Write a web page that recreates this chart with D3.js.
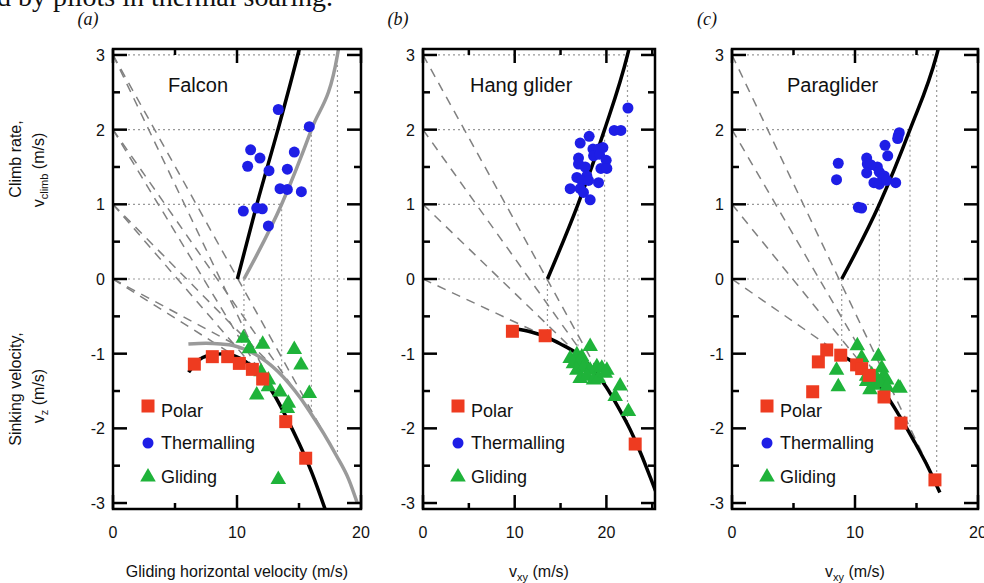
<!DOCTYPE html>
<meta charset="utf-8">
<style>
body { margin: 0; background: #fff; }
text { font-family: "Liberation Sans", Arial, sans-serif; fill: #111; }
.serif { font-family: "Liberation Serif", "Times New Roman", serif; }
.box { fill: none; stroke: #000; stroke-width: 2.5; }
.tick { stroke: #000; stroke-width: 2.5; }
.grid { fill: none; stroke: #999; stroke-width: 1.2; stroke-dasharray: 2,3; }
.tangent { fill: none; stroke: #808080; stroke-width: 1.5; stroke-dasharray: 9,7; }
.curve { fill: none; stroke: #000; stroke-width: 3.5; }
.curve.alt { stroke: #9a9a9a; }
</style>
<svg width="984" height="583"></svg>
<script src="https://d3js.org/d3.v7.min.js"></script>
<script>

var climbRates = [0, 1, 2, 3];
var yTickLabels = [-3, -2, -1, 0, 1, 2, 3];
var xTickLabels = [0, 10, 20];
var legendNames = ["Polar", "Thermalling", "Gliding"];

// (a) Falcon
var falconPolarV = [6.1, 6.8, 7.8, 9.0, 10.2, 11.2, 12.1, 13.0, 14.0, 15.0, 16.0, 17.1];
var falconPolarZ = [-1.25, -1.1, -1.02, -1.0, -1.06, -1.17, -1.33, -1.55, -1.86, -2.2, -2.58, -3.08];
var falconAltPolarV = [6.08, 7.5, 8.7, 9.7, 10.6, 11.5, 12.4, 13.3, 14.2, 15.1, 16.0, 17.0, 18.0, 19.0, 19.7];
var falconAltPolarZ = [-0.87, -0.86, -0.87, -0.89, -0.94, -1.01, -1.11, -1.24, -1.4, -1.59, -1.81, -2.07, -2.36, -2.68, -3.0];
var falconTangentV = [10.03, 11.6, 13.3, 14.9];
var falconTangentZ = [-1.05, -1.23, -1.64, -2.17];
var falconAltTangentV = [10.56, 13.6, 16.0, 18.1];
var falconAltTangentZ = [-0.94, -1.29, -1.81, -2.39];
var falconClimbV = [10.03, 11.6, 13.3, 14.9, 15.05];
var falconClimbM = [0, 1, 2, 3, 3.1];
var falconAltClimbV = [10.56, 13.6, 16.0, 18.1, 18.2];
var falconAltClimbM = [0, 1, 2, 3, 3.1];
var falconSquareV = [6.56, 8.01, 9.25, 10.19, 11.24, 12.07, 13.93, 15.54];
var falconSquareZ = [-1.14, -1.04, -1.04, -1.13, -1.21, -1.34, -1.91, -2.40];
var falconThermV = [13.33, 15.83, 11.1, 14.62, 11.85, 10.86, 12.58, 14.06, 13.47, 14.06, 15.19, 10.51, 11.59, 12.04, 12.53];
var falconThermM = [2.27, 2.04, 1.73, 1.70, 1.62, 1.51, 1.45, 1.47, 1.21, 1.20, 1.17, 0.91, 0.95, 0.94, 0.71];
var falconGlideV = [10.51, 11.0, 12.07, 14.62, 15.16, 11.94, 12.53, 12.53, 13.47, 11.59, 15.83, 14.14, 14.06, 13.33];
var falconGlideZ = [-0.78, -0.92, -0.86, -0.93, -1.14, -1.23, -1.34, -1.43, -1.50, -1.54, -1.52, -1.65, -1.72, -2.67];

// (b) Hang glider
var hangPolarV = [10.2, 11.8, 13.3, 15.0, 16.8, 18.5, 20.0, 21.3, 22.6, 23.8, 24.8, 25.8];
var hangPolarZ = [-0.67, -0.71, -0.77, -0.87, -1.0, -1.2, -1.45, -1.72, -2.02, -2.35, -2.66, -2.98];
var hangTangentV = [13.57, 16.9, 19.8, 22.3];
var hangTangentZ = [-0.78, -1.01, -1.41, -1.95];
var hangClimbV = [13.57, 16.9, 19.8, 22.3, 22.5];
var hangClimbM = [0, 1, 2, 3, 3.1];
var hangSquareV = [9.75, 13.32, 23.14];
var hangSquareZ = [-0.70, -0.76, -2.21];
var hangThermV = [22.35, 20.85, 21.58, 18.12, 17.14, 18.53, 19.14, 19.62, 18.6, 19.25, 16.96, 19.98, 16.96, 17.69, 19.4, 20.05, 16.78, 17.87, 17.32, 18.05, 19.14, 16.05, 17.14, 17.5, 18.23];
var hangThermM = [2.29, 1.99, 1.99, 1.91, 1.82, 1.74, 1.74, 1.76, 1.65, 1.67, 1.62, 1.59, 1.54, 1.50, 1.48, 1.48, 1.36, 1.38, 1.32, 1.32, 1.29, 1.21, 1.21, 1.16, 1.06];
var hangGlideV = [18.23, 16.05, 16.78, 17.32, 16.4, 17.14, 17.69, 16.78, 17.5, 18.23, 18.96, 19.5, 20.05, 17.14, 17.87, 18.6, 19.14, 19.87, 21.5, 20.96, 22.4];
var hangGlideZ = [-0.89, -1.05, -1.0, -1.03, -1.12, -1.09, -1.14, -1.21, -1.18, -1.21, -1.16, -1.18, -1.21, -1.32, -1.29, -1.34, -1.32, -1.25, -1.42, -1.56, -1.76];

// (c) Paraglider
var paraPolarV = [8.9, 10.0, 11.2, 12.4, 13.6, 14.8, 16.0, 16.9];
var paraPolarZ = [-1.02, -1.13, -1.29, -1.52, -1.83, -2.17, -2.54, -2.86];
var paraTangentV = [8.92, 11.98, 14.47, 16.64];
var paraTangentZ = [-1.02, -1.43, -2.08, -2.74];
var paraClimbV = [8.92, 11.98, 14.47, 16.64, 16.8];
var paraClimbM = [0, 1, 2, 3, 3.1];
var paraSquareV = [6.56, 7.02, 7.7, 8.84, 10.13, 10.54, 11.16, 12.36, 13.74, 16.5];
var paraSquareZ = [-1.51, -1.11, -0.95, -1.02, -1.15, -1.20, -1.29, -1.58, -1.93, -2.69];
var paraThermV = [13.6, 13.52, 13.47, 12.44, 12.66, 8.64, 10.95, 11.0, 11.82, 11.27, 10.95, 11.98, 12.38, 12.24, 8.5, 11.54, 11.98, 12.58, 13.31, 10.27, 10.54];
var paraThermM = [1.96, 1.92, 1.88, 1.79, 1.65, 1.55, 1.62, 1.54, 1.50, 1.53, 1.42, 1.43, 1.38, 1.34, 1.33, 1.29, 1.27, 1.32, 1.29, 0.96, 0.95];
var paraGlideV = [10.19, 10.54, 11.9, 8.5, 12.17, 8.64, 10.95, 11.36, 11.77, 12.3, 12.58, 10.95, 11.5, 12.03, 12.58, 13.52, 13.66, 11.22];
var paraGlideZ = [-0.88, -1.04, -1.02, -1.21, -1.18, -1.43, -1.29, -1.27, -1.32, -1.29, -1.34, -1.36, -1.41, -1.38, -1.43, -1.44, -1.45, -1.47];

var svg = d3.select("svg");
var top_ = 49, bottom = 509;
var y = d3.scaleLinear().domain([-3.08, 3.08]).range([bottom, top_]);

var panels = [
  { name: "Falcon", letter: "(a)", left: 113, right: 361, xmax: 20, nameDx: 55,
    polarV: falconPolarV, polarZ: falconPolarZ, tanV: falconTangentV, tanZ: falconTangentZ,
    climbV: falconClimbV, climbM: falconClimbM,
    alt: { polarV: falconAltPolarV, polarZ: falconAltPolarZ, tanV: falconAltTangentV, tanZ: falconAltTangentZ,
           climbV: falconAltClimbV, climbM: falconAltClimbM },
    sqV: falconSquareV, sqZ: falconSquareZ, thV: falconThermV, thM: falconThermM, glV: falconGlideV, glZ: falconGlideZ,
    xlabel: "Gliding horizontal velocity (m/s)" },
  { name: "Hang glider", letter: "(b)", left: 423, right: 655, xmax: 25.3, nameDx: 47,
    polarV: hangPolarV, polarZ: hangPolarZ, tanV: hangTangentV, tanZ: hangTangentZ,
    climbV: hangClimbV, climbM: hangClimbM,
    sqV: hangSquareV, sqZ: hangSquareZ, thV: hangThermV, thM: hangThermM, glV: hangGlideV, glZ: hangGlideZ,
    xlabel: null },
  { name: "Paraglider", letter: "(c)", left: 732, right: 978, xmax: 20, nameDx: 55,
    polarV: paraPolarV, polarZ: paraPolarZ, tanV: paraTangentV, tanZ: paraTangentZ,
    climbV: paraClimbV, climbM: paraClimbM,
    sqV: paraSquareV, sqZ: paraSquareZ, thV: paraThermV, thM: paraThermM, glV: paraGlideV, glZ: paraGlideZ,
    xlabel: null }
];

var red = "#ee3b20", blue = "#1e1ee6", green = "#1fb33a";
var triangle = d3.symbol().type(d3.symbolTriangle).size(105);

// cut-off caption line at the very top
svg.append("text").attr("class", "serif").attr("x", -3).attr("y", 6)
  .style("font-size", "28px").text("d by pilots in thermal soaring.");

panels.forEach(function(p, i) {
  var x = d3.scaleLinear().domain([0, p.xmax]).range([p.left, p.right]);
  var g = svg.append("g");
  var clipId = "clip" + i;
  svg.append("clipPath").attr("id", clipId).append("rect")
    .attr("x", p.left).attr("y", top_).attr("width", p.right - p.left).attr("height", bottom - top_);
  var plot = g.append("g").attr("clip-path", "url(#" + clipId + ")");

  var outer = p.alt || p;
  // dotted guides
  climbRates.forEach(function(m, k) {
    var xEnd = m === 0 ? p.xmax : Math.max(p.tanV[k], outer.tanV[k]);
    plot.append("line").attr("class", "grid")
      .attr("x1", x(0)).attr("x2", x(xEnd)).attr("y1", y(m)).attr("y2", y(m));
    plot.append("line").attr("class", "grid")
      .attr("x1", x(outer.tanV[k])).attr("x2", x(outer.tanV[k]))
      .attr("y1", y(m)).attr("y2", y(outer.tanZ[k]));
  });

  // tangent (speed-to-fly) lines
  [p, p.alt].forEach(function(s) {
    if (!s) return;
    climbRates.forEach(function(m, k) {
      plot.append("line").attr("class", "tangent")
        .attr("x1", x(0)).attr("y1", y(m)).attr("x2", x(s.tanV[k])).attr("y2", y(s.tanZ[k]));
    });
  });

  var line = d3.line().curve(d3.curveMonotoneX)
    .x(function(d) { return x(d[0]); }).y(function(d) { return y(d[1]); });

  if (p.alt) {
    plot.append("path").attr("class", "curve alt").attr("d", line(d3.zip(p.alt.polarV, p.alt.polarZ)));
    plot.append("path").attr("class", "curve alt").attr("d", line(d3.zip(p.alt.climbV, p.alt.climbM)));
  }
  plot.append("path").attr("class", "curve").attr("d", line(d3.zip(p.polarV, p.polarZ)));
  plot.append("path").attr("class", "curve").attr("d", line(d3.zip(p.climbV, p.climbM)));

  // markers
  plot.selectAll(".gl").data(d3.zip(p.glV, p.glZ)).enter().append("path")
    .attr("d", triangle).attr("fill", green)
    .attr("transform", function(d) { return "translate(" + x(d[0]) + "," + (y(d[1]) + 1) + ")"; });
  plot.selectAll(".sq").data(d3.zip(p.sqV, p.sqZ)).enter().append("rect")
    .attr("width", 13).attr("height", 13).attr("fill", red)
    .attr("x", function(d) { return x(d[0]) - 6.5; }).attr("y", function(d) { return y(d[1]) - 6.5; });
  plot.selectAll(".th").data(d3.zip(p.thV, p.thM)).enter().append("circle")
    .attr("r", 5.5).attr("fill", blue)
    .attr("cx", function(d) { return x(d[0]); }).attr("cy", function(d) { return y(d[1]); });

  // box + inward ticks
  g.append("rect").attr("class", "box").attr("x", p.left).attr("y", top_)
    .attr("width", p.right - p.left).attr("height", bottom - top_);
  d3.range(-3, 3.01, 0.5).forEach(function(t) {
    var len = Number.isInteger(t) ? 14 : 7;
    g.append("line").attr("class", "tick").attr("x1", p.left).attr("x2", p.left + len).attr("y1", y(t)).attr("y2", y(t));
    g.append("line").attr("class", "tick").attr("x1", p.right).attr("x2", p.right - len).attr("y1", y(t)).attr("y2", y(t));
  });
  d3.range(0, p.xmax + 0.01, 5).forEach(function(t) {
    var len = t % 10 === 0 ? 14 : 6;
    g.append("line").attr("class", "tick").attr("x1", x(t)).attr("x2", x(t)).attr("y1", top_).attr("y2", top_ + len);
    g.append("line").attr("class", "tick").attr("x1", x(t)).attr("x2", x(t)).attr("y1", bottom).attr("y2", bottom - len);
  });

  // tick labels
  yTickLabels.forEach(function(t) {
    g.append("text").attr("x", p.left - 8).attr("y", y(t) + 6).attr("text-anchor", "end")
      .style("font-size", "16px").text(t);
  });
  xTickLabels.forEach(function(t) {
    g.append("text").attr("x", x(t)).attr("y", 538).attr("text-anchor", "middle")
      .style("font-size", "16px").text(t);
  });

  // titles
  g.append("text").attr("x", p.left + p.nameDx).attr("y", 92).style("font-size", "20px").text(p.name);
  g.append("text").attr("class", "serif").attr("x", p.left - 25).attr("y", 25).attr("text-anchor", "middle")
    .style("font-size", "18px").style("font-style", "italic").text(p.letter);

  // legend
  var lx = p.left + 35;
  g.append("rect").attr("x", lx - 6.5).attr("y", 406 - 6.5).attr("width", 13).attr("height", 13).attr("fill", red);
  g.append("circle").attr("cx", lx).attr("cy", 443).attr("r", 5.5).attr("fill", blue);
  g.append("path").attr("d", triangle).attr("fill", green).attr("transform", "translate(" + lx + ",477)");
  [417, 449, 483].forEach(function(by, k) {
    g.append("text").attr("x", lx + 13).attr("y", by).style("font-size", "18px").text(legendNames[k]);
  });

  // x-axis title
  var cx = (p.left + p.right) / 2;
  var xt = g.append("text").attr("x", cx).attr("y", 577).attr("text-anchor", "middle").style("font-size", "16px");
  if (p.xlabel) {
    xt.text(p.xlabel);
  } else {
    xt.append("tspan").text("v");
    xt.append("tspan").attr("dy", 4).style("font-size", "11px").text("xy");
    xt.append("tspan").attr("dy", -4).text(" (m/s)");
  }
});

// y-axis titles
function yTitle(px, py, txt) {
  return svg.append("text").attr("transform", "translate(" + px + "," + py + ") rotate(-90)")
    .attr("text-anchor", "middle").style("font-size", "16px").text(txt);
}
yTitle(21, 159, "Climb rate,");
yTitle(21, 389, "Sinking velocity,");
function ySub(px, py, sub) {
  var t = svg.append("text").attr("transform", "translate(" + px + "," + py + ") rotate(-90)")
    .attr("text-anchor", "middle").style("font-size", "16px");
  t.append("tspan").text("v");
  t.append("tspan").attr("dy", 4).style("font-size", "11px").text(sub);
  t.append("tspan").attr("dy", -4).text(" (m/s)");
}
ySub(44, 170, "climb");
ySub(44, 396, "z");

</script>
